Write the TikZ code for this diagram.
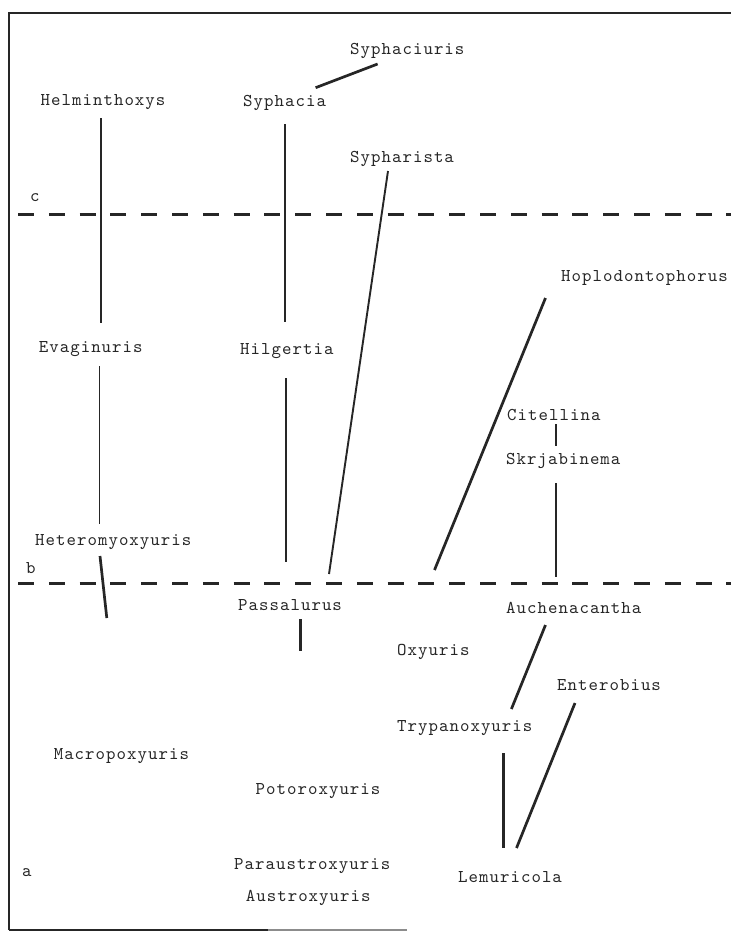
\documentclass[tikz,border=0pt]{standalone}
\usepackage{fontspec}
\newfontfamily\typew{lmmono10-regular}[Extension=.otf,LetterSpace=5.7]
\begin{document}
\begin{tikzpicture}[x=1pt,y=-1pt,
  lbl/.style={inner sep=0pt,anchor=base west,text=black!85,font=\typew\fontsize{18}{20}\selectfont},
  thinln/.style={draw=black!85,line width=1.5pt},
  medln/.style={draw=black!85,line width=1.9pt},
  thickln/.style={draw=black!85,line width=2.7pt},
  level/.style={draw=black!85,line width=3pt,dash pattern=on 16pt off 14.8pt},
  frame/.style={draw=black!85,line width=2.6pt}]
\useasboundingbox (0,0) rectangle (731,932);
% frame
\draw[frame] (9,930) -- (9,13) -- (731,13);
\draw[frame] (9,930) -- (268,930);
\draw[draw=black!45,line width=1.4pt] (268,930) -- (407,930);
% level lines
\draw[level] (18,214) -- (731,214);
\draw[level] (18,583) -- (731,583);
% labels
\node[lbl] (c) at (30,201) {c};
\node[lbl] (b) at (26,573) {b};
\node[lbl] (a) at (22,876) {a};
\node[lbl] (syphaciuris) at (350,54) {Syphaciuris};
\node[lbl] (helminthoxys) at (40.5,105) {Helminthoxys};
\node[lbl] (syphacia) at (243,106) {Syphacia};
\node[lbl] (sypharista) at (350,162) {Sypharista};
\node[lbl] (hoplodontophorus) at (561,281) {Hoplodontophorus};
\node[lbl] (evaginuris) at (38.7,352) {Evaginuris};
\node[lbl] (hilgertia) at (240,354) {Hilgertia};
\node[lbl] (citellina) at (507,420) {Citellina};
\node[lbl] (skrjabinema) at (506,464) {Skrjabinema};
\node[lbl] (heteromyoxyuris) at (35,545) {Heteromyoxyuris};
\node[lbl] (passalurus) at (238,610) {Passalurus};
\node[lbl] (auchenacantha) at (506,613) {Auchenacantha};
\node[lbl] (oxyuris) at (397,655) {Oxyuris};
\node[lbl] (enterobius) at (557,690) {Enterobius};
\node[lbl] (trypanoxyuris) at (397,731) {Trypanoxyuris};
\node[lbl] (macropoxyuris) at (53.6,759) {Macropoxyuris};
\node[lbl] (potoroxyuris) at (255.5,794) {Potoroxyuris};
\node[lbl] (paraustroxyuris) at (234,869) {Paraustroxyuris};
\node[lbl] (austroxyuris) at (245.7,901) {Austroxyuris};
\node[lbl] (lemuricola) at (458,882) {Lemuricola};
% connector end points
\coordinate (syphaciurisEnd) at (377.6,64);
\coordinate (syphaciaTop) at (315.6,87.7);
\coordinate (helmA) at (101,118);
\coordinate (helmB) at (101,323);
\coordinate (syphA) at (285,124);
\coordinate (syphB) at (285,322);
\coordinate (syphaA) at (388,171);
\coordinate (syphaB) at (329,574);
\coordinate (hoplA) at (545.5,298);
\coordinate (hoplB) at (434.5,570);
\coordinate (evagA) at (99.3,366);
\coordinate (evagB) at (99.3,524);
\coordinate (hilgA) at (286,378);
\coordinate (hilgB) at (286,562);
\coordinate (citA) at (556,424);
\coordinate (citB) at (556,446);
\coordinate (skrA) at (556,483);
\coordinate (skrB) at (556,577);
\coordinate (hetA) at (100,556);
\coordinate (hetB) at (106.8,618);
\coordinate (passA) at (300.7,619);
\coordinate (passB) at (300.7,651);
\coordinate (auchA) at (545.5,625);
\coordinate (auchB) at (511.4,709);
\coordinate (trypA) at (503.5,753);
\coordinate (trypB) at (503.5,848);
\coordinate (entA) at (575,703);
\coordinate (entB) at (516.5,848);
% connectors
\draw[thickln] (syphaciurisEnd) -- (syphaciaTop);
\draw[thinln] (helmA) -- (helmB);
\draw[thinln] (syphA) -- (syphB);
\draw[medln] (syphaA) -- (syphaB);
\draw[thickln] (hoplA) -- (hoplB);
\draw[thinln] (evagA) -- (evagB);
\draw[medln] (hilgA) -- (hilgB);
\draw[thickln] (citA) -- (citB);
\draw[thickln] (skrA) -- (skrB);
\draw[thickln] (hetA) -- (hetB);
\draw[thickln] (passA) -- (passB);
\draw[thickln] (auchA) -- (auchB);
\draw[thickln] (trypA) -- (trypB);
\draw[thickln] (entA) -- (entB);
\end{tikzpicture}
\end{document}
